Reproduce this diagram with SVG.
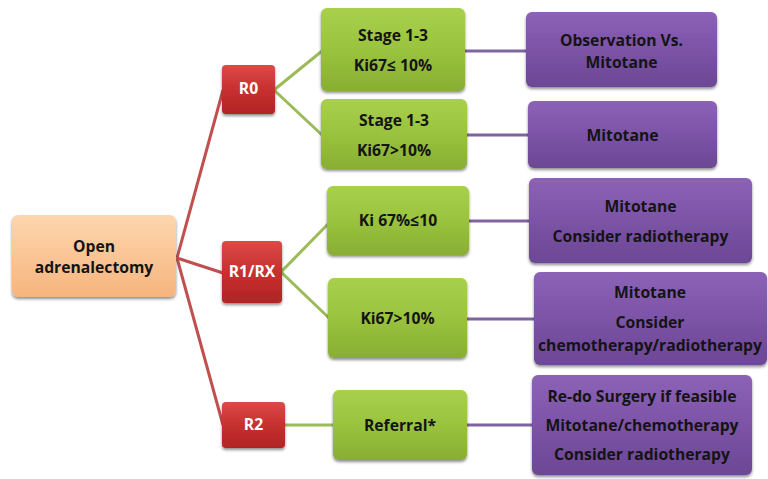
<svg xmlns="http://www.w3.org/2000/svg" width="768" height="479" viewBox="0 0 768 479">
<defs>
<linearGradient id="gO" x1="0" y1="0" x2="0" y2="1"><stop offset="0" stop-color="#FDD6AE"/><stop offset="0.5" stop-color="#FAC596"/><stop offset="1" stop-color="#F6B57E"/></linearGradient>
<linearGradient id="gR" x1="0" y1="0" x2="0" y2="1"><stop offset="0" stop-color="#DC4A48"/><stop offset="0.5" stop-color="#C8302F"/><stop offset="1" stop-color="#B02424"/></linearGradient>
<linearGradient id="gG" x1="0" y1="0" x2="0" y2="1"><stop offset="0" stop-color="#A8D04C"/><stop offset="0.5" stop-color="#9AC33E"/><stop offset="1" stop-color="#88AE33"/></linearGradient>
<linearGradient id="gP" x1="0" y1="0" x2="0" y2="1"><stop offset="0" stop-color="#8C62B6"/><stop offset="0.5" stop-color="#7C53A6"/><stop offset="1" stop-color="#6C4795"/></linearGradient>
<filter id="sh" x="-10%" y="-10%" width="120%" height="130%"><feGaussianBlur in="SourceAlpha" stdDeviation="1.5"/><feOffset dx="0" dy="2" result="b"/><feComponentTransfer><feFuncA type="linear" slope="0.45"/></feComponentTransfer><feMerge><feMergeNode/><feMergeNode in="SourceGraphic"/></feMerge></filter>
</defs>
<style>
.t{font-family:"Open Sans","Liberation Sans",sans-serif;font-weight:bold;font-size:15.7px;fill:#141414;text-anchor:middle}
.w{fill:#ffffff}
.o{fill:url(#gO);filter:url(#sh)}
.r{fill:url(#gR);filter:url(#sh)}
.g{fill:url(#gG);filter:url(#sh)}
.p{fill:url(#gP);filter:url(#sh)}
.lr{stroke:#C0504D;stroke-width:3;fill:none}
.lg{stroke:#9BBB59;stroke-width:3;fill:none}
.lp{stroke:#8064A2;stroke-width:3;fill:none}
</style>
<rect width="768" height="479" fill="#ffffff"/>
<g id="connectors">
<line class="lr" x1="177" y1="258" x2="223" y2="90"/>
<line class="lr" x1="177" y1="258" x2="223" y2="273"/>
<line class="lr" x1="177" y1="258" x2="223" y2="425"/>
<line class="lg" x1="274" y1="90" x2="322" y2="51"/>
<line class="lg" x1="274" y1="90" x2="322" y2="135"/>
<line class="lg" x1="281" y1="272" x2="328" y2="224"/>
<line class="lg" x1="281" y1="272" x2="329" y2="318"/>
<line class="lg" x1="284" y1="425" x2="334" y2="425"/>
<line class="lp" x1="465" y1="51" x2="527" y2="51"/>
<line class="lp" x1="467" y1="135" x2="529" y2="135"/>
<line class="lp" x1="469" y1="221" x2="530" y2="221"/>
<line class="lp" x1="467" y1="319" x2="535" y2="319"/>
<line class="lp" x1="467" y1="425" x2="533" y2="425"/>
</g>
<g id="open">
<rect class="o" x="12" y="215" width="164" height="82" rx="6"/>
<text class="t" x="94" y="252">Open</text>
<text class="t" x="94" y="273">adrenalectomy</text>
</g>
<g id="r0">
<rect class="r" x="222" y="65" width="53" height="49" rx="4"/>
<text class="t w" x="248.5" y="94">R0</text>
</g>
<g id="r1">
<rect class="r" x="222" y="241" width="60" height="62" rx="4"/>
<text class="t w" x="252" y="277">R1/RX</text>
</g>
<g id="r2">
<rect class="r" x="222" y="402" width="63" height="46" rx="4"/>
<text class="t w" x="253.5" y="430">R2</text>
</g>
<g id="g1">
<rect class="g" x="321" y="8" width="144" height="83" rx="6"/>
<text class="t" x="393" y="41">Stage 1-3</text>
<text class="t" x="393" y="71">Ki67≤ 10%</text>
</g>
<g id="g2">
<rect class="g" x="321" y="99" width="146" height="70" rx="6"/>
<text class="t" x="394" y="126">Stage 1-3</text>
<text class="t" x="394" y="156">Ki67&gt;10%</text>
</g>
<g id="g3">
<rect class="g" x="327" y="186" width="142" height="69" rx="6"/>
<text class="t" x="398" y="226">Ki 67%≤10</text>
</g>
<g id="g4">
<rect class="g" x="328" y="278" width="139" height="80" rx="6"/>
<text class="t" x="397.5" y="324">Ki67&gt;10%</text>
</g>
<g id="g5">
<rect class="g" x="333" y="390" width="134" height="70" rx="6"/>
<text class="t" x="400" y="431">Referral*</text>
</g>
<g id="p1">
<rect class="p" x="526" y="12" width="191" height="75" rx="6"/>
<text class="t" x="621.5" y="46">Observation Vs.</text>
<text class="t" x="621.5" y="68">Mitotane</text>
</g>
<g id="p2">
<rect class="p" x="528" y="101" width="189" height="67" rx="6"/>
<text class="t" x="622.5" y="141">Mitotane</text>
</g>
<g id="p3">
<rect class="p" x="529" y="178" width="223" height="85" rx="6"/>
<text class="t" x="640.5" y="212">Mitotane</text>
<text class="t" x="640.5" y="242">Consider radiotherapy</text>
</g>
<g id="p4">
<rect class="p" x="534" y="272" width="233" height="93" rx="6"/>
<text class="t" x="650" y="298">Mitotane</text>
<text class="t" x="650" y="328">Consider</text>
<text class="t" x="650" y="351">chemotherapy/radiotherapy</text>
</g>
<g id="p5">
<rect class="p" x="532" y="375" width="220" height="100" rx="6"/>
<text class="t" x="642" y="402">Re-do Surgery if feasible</text>
<text class="t" x="642" y="431">Mitotane/chemotherapy</text>
<text class="t" x="642" y="460">Consider radiotherapy</text>
</g>
</svg>
